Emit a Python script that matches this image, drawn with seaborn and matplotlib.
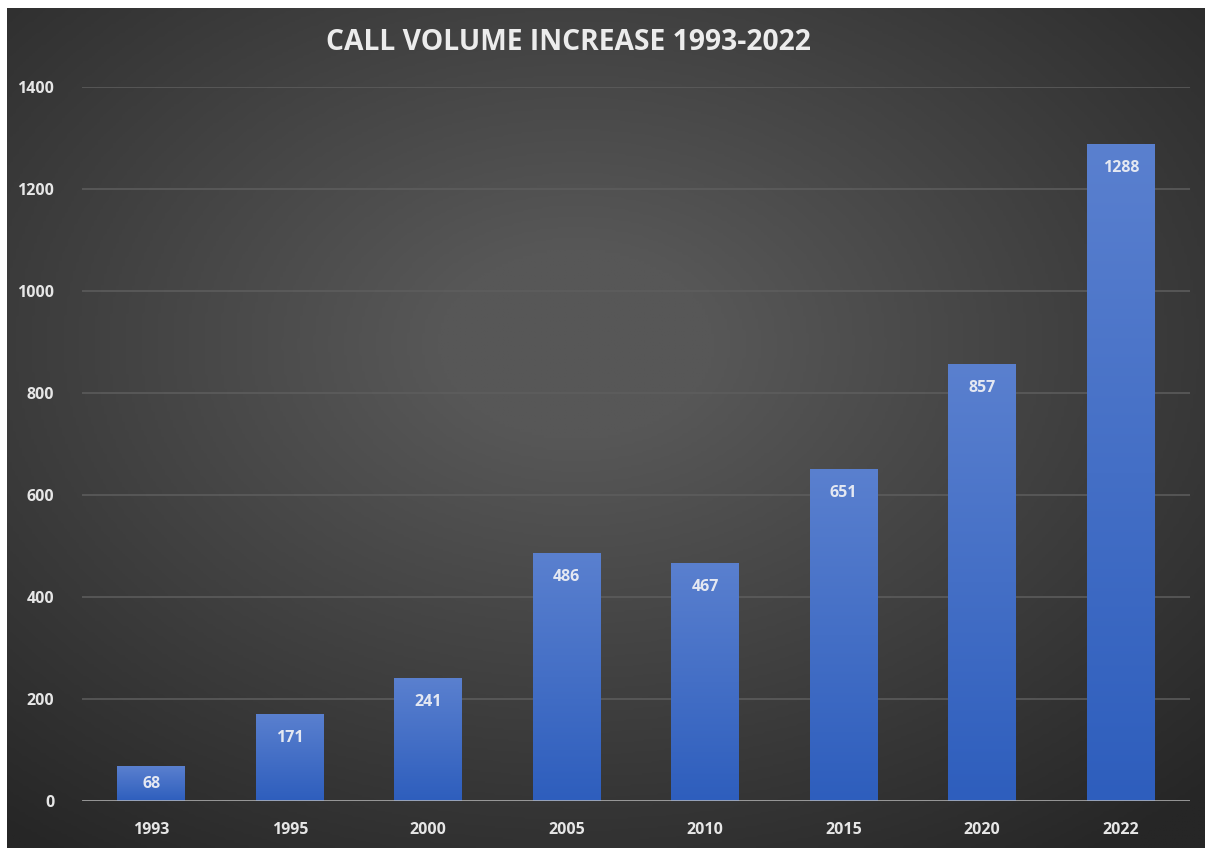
import numpy as np
import matplotlib
matplotlib.use("Agg")
import matplotlib.pyplot as plt
import seaborn as sns
import pandas as pd
from matplotlib.colors import LinearSegmentedColormap

years = ["1993", "1995", "2000", "2005", "2010", "2015", "2020", "2022"]
calls = [68, 171, 241, 486, 467, 651, 857, 1288]
y_ticks = [0, 200, 400, 600, 800, 1000, 1200, 1400]
title = "CALL VOLUME INCREASE 1993-2022"

df = pd.DataFrame({"year": years, "calls": calls})

sns.set_theme(style="dark")
plt.rcParams["font.family"] = ["Open Sans", "DejaVu Sans"]
plt.rcParams["font.weight"] = "bold"

W, H = 1205, 848
fig = plt.figure(figsize=(W / 100, H / 100), dpi=100, facecolor="white")

# dark radial backdrop behind the chart
bg = fig.add_axes([7 / W, 0, 1 - 7 / W + 0.01, 1 - 8 / H], zorder=-5)
gx, gy = np.meshgrid(np.linspace(0, 1, 400), np.linspace(0, 1, 300))
r = np.sqrt(((gx - 0.47) / 0.75) ** 2 + ((gy - 0.40) / 0.75) ** 2)
shade = np.clip(1 - r, 0, 1)
bg_cmap = LinearSegmentedColormap.from_list("bg", ["#262626", "#575757"])
bg.imshow(shade, cmap=bg_cmap, aspect="auto", extent=[0, 1, 1, 0], vmin=0, vmax=0.85)
bg.set_xlim(0, 1)
bg.set_ylim(1, 0)
bg.set_axis_off()

ax = fig.add_axes([82 / W, 1 - 801 / H, (1190 - 82) / W, (801 - 87) / H])
ax.patch.set_alpha(0)

sns.barplot(data=df, x="year", y="calls", color="#4472c4", width=0.49,
            saturation=1, ax=ax, zorder=3)

# vertical gradient fill for each bar
bar_cmap = LinearSegmentedColormap.from_list("bar", ["#2e5ebd", "#5a80cf"])
grad = np.linspace(0, 1, 256).reshape(-1, 1)
for p in ax.patches:
    x0, w, h = p.get_x(), p.get_width(), p.get_height()
    im = ax.imshow(grad, cmap=bar_cmap, origin="lower", aspect="auto",
                   extent=[x0, x0 + w, 0, h], zorder=3.5)
    im.set_clip_path(p)
    p.set_edgecolor("none")

ax.set_xlim(-0.5, len(years) - 0.5)
ax.set_ylim(0, 1400)
ax.set_yticks(y_ticks)
ax.set_yticklabels([str(t) for t in y_ticks])

# gridlines and baseline
for t in y_ticks[1:]:
    ax.axhline(t, color="#5e5e5e", lw=1.1, zorder=1)
ax.axhline(0, color="#b8b8b8", lw=1.8, zorder=4)

for s in ax.spines.values():
    s.set_visible(False)
ax.tick_params(axis="both", length=0, colors="#e6e6e6", labelsize=11.5)
ax.tick_params(axis="y", pad=20)
ax.tick_params(axis="x", pad=15)
for lab in ax.get_xticklabels() + ax.get_yticklabels():
    lab.set_fontweight("bold")
ax.set_xlabel("")
ax.set_ylabel("")

# value labels inside the bar tops
px_per_unit = (801 - 87) / 1400
for i, v in enumerate(calls):
    off_px = min(24, v * px_per_unit / 2)
    ax.annotate(str(v), (i, v), xytext=(0, -off_px * 0.72), textcoords="offset points",
                ha="center", va="center", color="#e4e8f2", fontsize=11.5,
                fontweight="bold", zorder=6)

fig.text(568 / W, 1 - 43 / H, title, ha="center", va="center", color="#ececec",
         fontsize=20.3, fontweight="bold")

fig.savefig("out.png", dpi=100, facecolor="white")
